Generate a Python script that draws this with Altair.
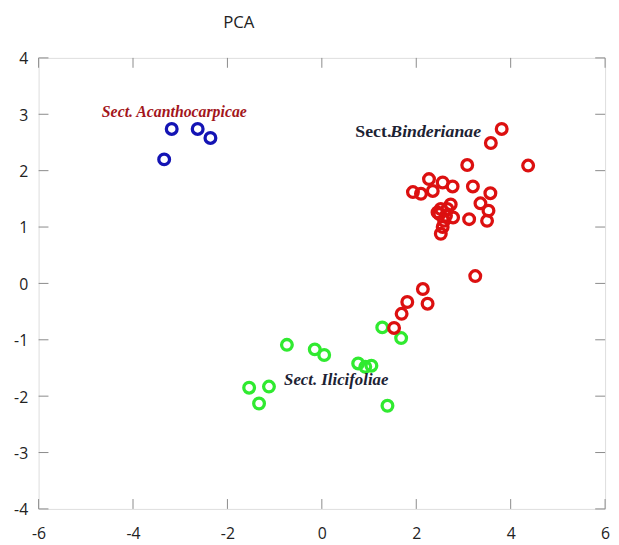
import altair as alt
import pandas as pd

# ---- data ----
blue_x = [-3.18, -2.63, -2.36, -3.34]
blue_y = [2.74, 2.74, 2.58, 2.20]

red_x = [3.81, 3.58, 3.08, 4.37, 2.27, 2.56, 2.77, 2.35, 1.93, 2.10, 3.20, 3.57,
         3.36, 3.53, 3.50, 3.12, 2.78, 2.73, 2.66, 2.49, 2.52, 2.59, 2.56, 2.52,
         2.45, 2.63, 3.25, 2.14, 2.24, 1.81, 1.69, 1.53]
red_y = [2.74, 2.49, 2.10, 2.09, 1.85, 1.79, 1.72, 1.64, 1.62, 1.59, 1.72, 1.60,
         1.42, 1.29, 1.11, 1.14, 1.17, 1.40, 1.32, 1.23, 1.32, 1.11, 1.00, 0.88,
         1.26, 1.20, 0.13, -0.10, -0.36, -0.33, -0.54, -0.79]

green_x = [-0.74, -0.15, 0.05, 0.77, 0.92, 1.05, 1.28, 1.68, -1.54, -1.12, -1.33, 1.39]
green_y = [-1.09, -1.17, -1.27, -1.42, -1.48, -1.46, -0.78, -0.97, -1.85, -1.83, -2.13, -2.17]

x_ticks = [-6, -4, -2, 0, 2, 4, 6]
y_ticks = [-4, -3, -2, -1, 0, 1, 2, 3, 4]

label_text = ["Sect. Acanthocarpicae", "Sect.", "Binderianae", "Sect. Ilicifoliae"]
label_x = [-3.125, 0.71, 1.45, -0.80]
label_y = [2.95, 2.60, 2.60, -1.797]

W, H = 574, 457
TICK = 10
FRAME = "#8a8a8a"

xs = alt.Scale(domain=[-6, 6], nice=False, zero=False)
ys = alt.Scale(domain=[-4, 4], nice=False, zero=False)

x_axis = alt.Axis(values=x_ticks, grid=False, ticks=False, domain=False, title=None,
                  labelPadding=17, labelFontSize=16, labelFont="Open Sans",
                  labelColor="#222222", labelFlush=False, labelExpr="'' + datum.value")
y_axis = alt.Axis(values=y_ticks, grid=False, ticks=False, domain=False, title=None,
                  labelPadding=11, labelFontSize=16, labelFont="Open Sans",
                  labelColor="#222222", labelOffset=1, labelFlush=False,
                  labelExpr="'' + datum.value")

pts = pd.concat([
    pd.DataFrame({"x": green_x, "y": green_y, "g": "green"}),
    pd.DataFrame({"x": red_x, "y": red_y, "g": "red"}),
    pd.DataFrame({"x": blue_x, "y": blue_y, "g": "blue"}),
], ignore_index=True)
pts["order"] = range(len(pts))

xt = pd.DataFrame({"v": x_ticks})
yt = pd.DataFrame({"v": y_ticks})

points = alt.Chart(pts).mark_point(shape="circle", filled=False, strokeWidth=3.3, size=118, opacity=1).encode(
    x=alt.X("x:Q", scale=xs, axis=x_axis),
    y=alt.Y("y:Q", scale=ys, axis=y_axis),
    color=alt.Color("g:N", scale=alt.Scale(domain=["green", "red", "blue"],
                                           range=["#30ea30", "#dc1010", "#1414b4"]),
                    legend=None),
    order=alt.Order("order:Q"),
)

left_ticks = alt.Chart(yt).mark_rule(color=FRAME, strokeWidth=1).encode(
    y=alt.Y("v:Q", scale=ys, axis=y_axis), x=alt.value(0), x2=alt.value(TICK))
right_ticks = alt.Chart(yt).mark_rule(color=FRAME, strokeWidth=1).encode(
    y=alt.Y("v:Q", scale=ys, axis=y_axis), x=alt.value(W - TICK), x2=alt.value(W))
bottom_ticks = alt.Chart(xt).mark_rule(color=FRAME, strokeWidth=1).encode(
    x=alt.X("v:Q", scale=xs, axis=x_axis), y=alt.value(H - TICK), y2=alt.value(H))
top_ticks = alt.Chart(xt).mark_rule(color=FRAME, strokeWidth=1).encode(
    x=alt.X("v:Q", scale=xs, axis=x_axis), y=alt.value(0), y2=alt.value(TICK))

lab = pd.DataFrame({"t": label_text, "x": label_x, "y": label_y})

def label(idx, color, size, style):
    kw = dict(font="Liberation Serif", fontWeight="bold", fontSize=size, color=color,
              align="center" if idx == 0 else "left", baseline="alphabetic")
    if style:
        kw["fontStyle"] = style
    return alt.Chart(lab.iloc[[idx]]).mark_text(**kw).encode(
        x=alt.X("x:Q", scale=xs, axis=x_axis), y=alt.Y("y:Q", scale=ys, axis=y_axis), text="t:N")

t1 = label(0, "#a3161c", 16, "italic")
t2 = label(1, "#1c2233", 18, None)
t3 = label(2, "#1c2233", 18, "italic")
t4 = label(3, "#1c2233", 17, "italic")

chart = alt.layer(
    points, left_ticks, right_ticks, bottom_ticks, top_ticks, t1, t2, t3, t4
).properties(
    width=W, height=H,
    title=alt.TitleParams("PCA", anchor="start", frame="group", dx=187, offset=6,
                          baseline="alphabetic", font="Open Sans", fontSize=17,
                          fontWeight="normal", color="#222222"),
    autosize=alt.AutoSizeParams(type="none"),
    padding={"left": 31, "top": 47, "right": 6, "bottom": 33},
).configure_view(stroke=FRAME, strokeWidth=1).configure(background="white")

chart.save("out.html", embed_options={"renderer": "svg", "actions": False})
